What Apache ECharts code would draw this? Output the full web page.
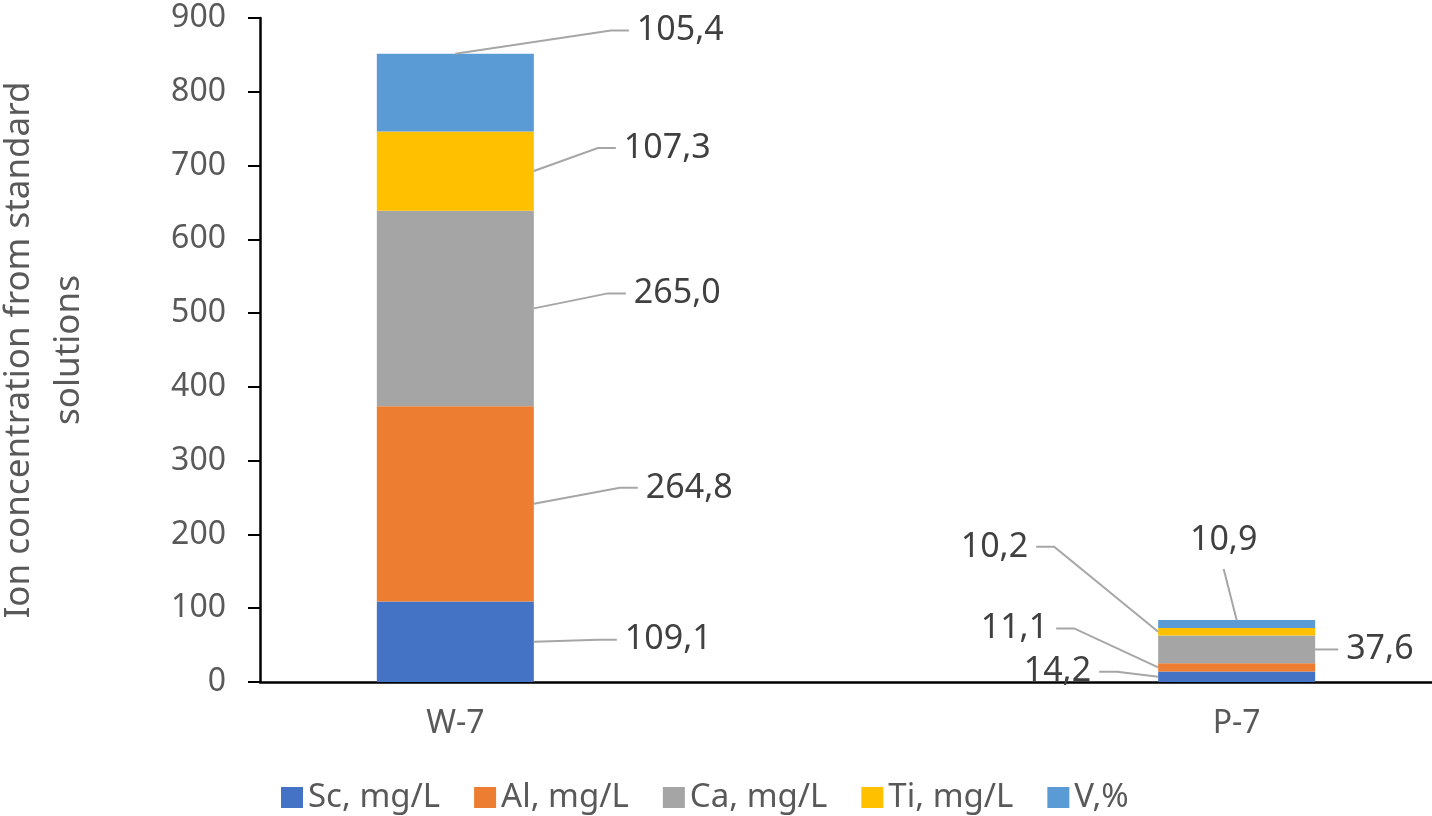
<!DOCTYPE html>
<html>
<head>
<meta charset="utf-8">
<script src="https://cdn.jsdelivr.net/npm/echarts@6/dist/echarts.min.js"></script>
<style>
  html, body { margin: 0; padding: 0; background: #fff; }
  #chart { width: 1432px; height: 816px; }
</style>
</head>
<body>
<div id="chart"></div>
<script>
// ---- Data ----
const categories = ['W-7', 'P-7'];
const seriesNames = ['Sc, mg/L', 'Al, mg/L', 'Ca, mg/L', 'Ti, mg/L', 'V,%'];
const scValues = [109.1, 14.2];
const alValues = [264.8, 11.1];
const caValues = [265.0, 37.6];
const tiValues = [107.3, 10.2];
const vValues = [105.4, 10.9];
const yTicks = [0, 100, 200, 300, 400, 500, 600, 700, 800, 900];
const yAxisTitle = 'Ion concentration from standard\nsolutions';

// ---- Styling ----
const colors = ['#4472C4', '#ED7D31', '#A5A5A5', '#FFC000', '#5B9BD5'];
const FONT = '"Noto Sans", "Open Sans", sans-serif';
const LEADER = 18;
// label placement: [side of bar, dx, dy, align, leader start] per series, per category
const labelPlacement = [
  [['right', 83, -2, 'left', 'side'], ['left', -59, -5, 'right', 'side']],
  [['right', 104, -16, 'left', 'side'], ['left', -102, -39, 'right', 'side']],
  [['right', 92, -15, 'left', 'side'], ['right', 23, 0, 'left', 'side']],
  [['right', 82, -23, 'left', 'side'], ['left', -122, -85, 'right', 'side']],
  [['right', 95, -62, 'left', 'top'], ['center', -13, -84, 'center', 'top']]
];

const valueLists = [scValues, alValues, caValues, tiValues, vValues];

function normRect(r) {
  const x = r.width < 0 ? r.x + r.width : r.x;
  const y = r.height < 0 ? r.y + r.height : r.y;
  return { x: x, y: y, width: Math.abs(r.width), height: Math.abs(r.height) };
}

function labelAnchor(s, i, r) {
  const o = labelPlacement[s][i];
  const midY = r.y + r.height / 2;
  const base = o[0] === 'right' ? r.x + r.width : (o[0] === 'left' ? r.x : r.x + r.width / 2);
  return { o: o, base: base, midY: midY, x: base + o[1], y: midY + o[2] };
}

function leaderPoints(s, i, r) {
  const a = labelAnchor(s, i, r);
  const o = a.o;
  if (o[3] === 'center') {
    const by = a.y + 29;
    return [[r.x + r.width / 2, r.y], [a.x, by]];
  }
  const start = o[4] === 'top' ? [r.x + r.width / 2, r.y] : [a.base, a.midY];
  const dir = o[3] === 'left' ? -1 : 1;
  return [start, [a.x + dir * LEADER, a.y], [a.x, a.y]];
}

const series = seriesNames.map((name, s) => ({
  name: name,
  type: 'bar',
  stack: 'total',
  barWidth: 157,
  itemStyle: { color: colors[s] },
  // column 0 = value (stacked, on y), column 1 = category position (on x)
  encode: { x: 1, y: 0 },
  data: categories.map((c, i) => [valueLists[s][i], i]),
  label: {
    show: true,
    position: 'inside',
    formatter: p => valueLists[p.seriesIndex][p.dataIndex].toFixed(1).replace('.', ','),
    fontFamily: FONT,
    fontSize: 34,
    color: '#404040',
    padding: [0, 8]
  },
  labelLayout: function (p) {
    const a = labelAnchor(p.seriesIndex, p.dataIndex, normRect(p.rect));
    return { x: a.x, y: a.y, align: a.o[3], verticalAlign: 'middle' };
  },
  emphasis: { disabled: true }
}));

const option = {
  animation: false,
  backgroundColor: '#ffffff',
  grid: { left: 260, right: 0, top: 18, bottom: 134, containLabel: false, outerBoundsMode: 'none' },
  xAxis: {
    type: 'value',
    min: -0.25,
    max: 1.25,
    interval: 0.25,
    axisLine: { show: true, onZero: false, lineStyle: { color: '#000', width: 2.5 } },
    axisTick: { show: false },
    splitLine: { show: false },
    axisLabel: {
      fontFamily: FONT,
      fontSize: 32,
      color: '#595959',
      margin: 26,
      showMinLabel: true,
      showMaxLabel: true,
      formatter: v => {
        const idx = Math.round(v);
        return Math.abs(v - idx) < 1e-6 && categories[idx] ? categories[idx] : '';
      }
    }
  },
  yAxis: {
    type: 'value',
    min: yTicks[0],
    max: yTicks[yTicks.length - 1],
    interval: yTicks[1] - yTicks[0],
    name: yAxisTitle,
    nameLocation: 'middle',
    nameGap: 166,
    nameTextStyle: { fontFamily: FONT, fontSize: 35, color: '#595959', lineHeight: 50 },
    axisLine: { show: true, onZero: false, lineStyle: { color: '#000', width: 2.5 } },
    axisTick: { show: true, inside: false, length: 12, lineStyle: { color: '#000', width: 2 } },
    splitLine: { show: false },
    axisLabel: { fontFamily: FONT, fontSize: 32, color: '#595959', margin: 34 }
  },
  legend: {
    data: seriesNames,
    left: 276,
    top: 776,
    icon: 'rect',
    itemWidth: 22,
    itemHeight: 21,
    itemGap: 34,
    textStyle: { fontFamily: FONT, fontSize: 33, color: '#595959' }
  },
  series: series
};

const chart = echarts.init(document.getElementById('chart'), null, { renderer: 'canvas' });
chart.setOption(option);

// Leader lines, placed from the bar segments laid out by ECharts
const leaderLines = [];
seriesNames.forEach((n, s) => {
  const data = chart.getModel().getSeriesByIndex(s).getData();
  categories.forEach((c, i) => {
    const r = normRect(data.getItemLayout(i));
    leaderLines.push({
      type: 'polyline',
      silent: true,
      z: 5,
      shape: { points: leaderPoints(s, i, r) },
      style: { stroke: '#A6A6A6', lineWidth: 2, fill: null }
    });
  });
});
chart.setOption({ graphic: leaderLines });
</script>
</body>
</html>
